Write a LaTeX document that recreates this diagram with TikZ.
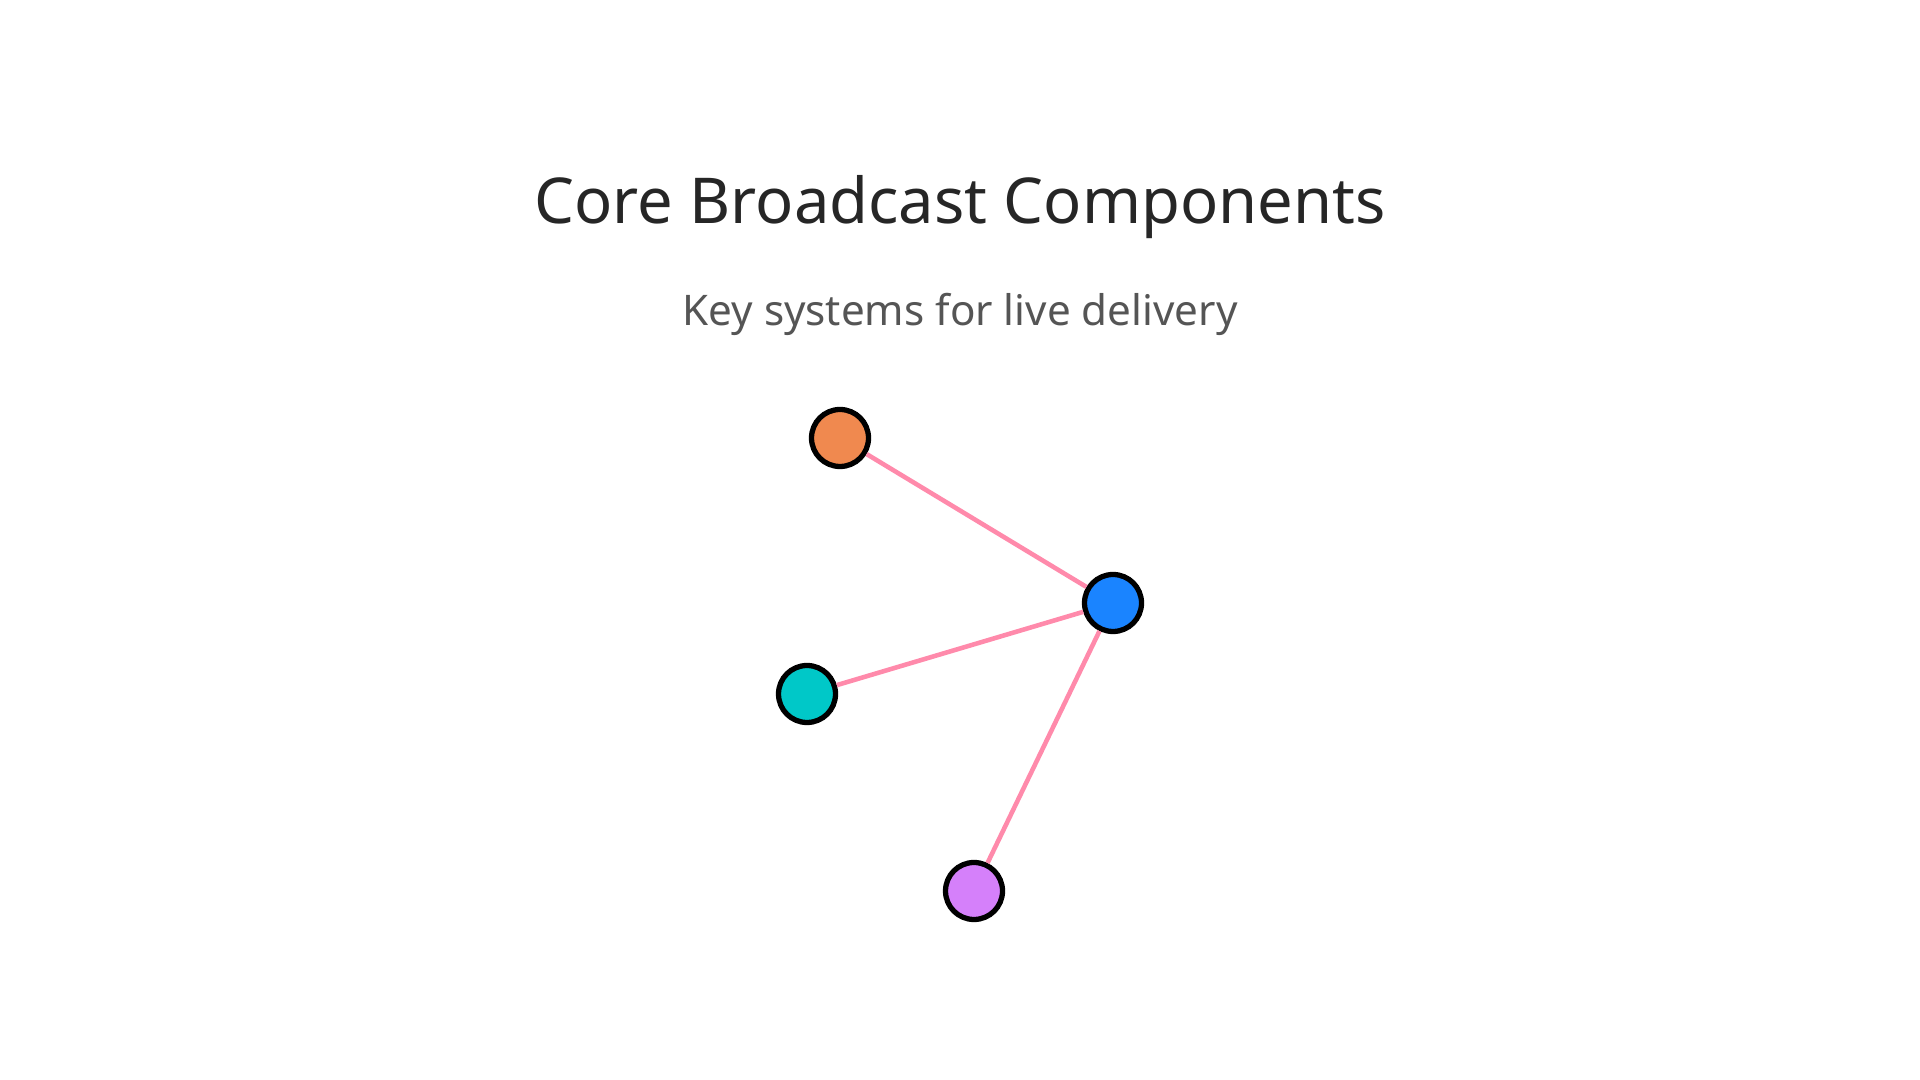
\documentclass[tikz,border=0pt]{standalone}
\usepackage{fontspec}
\setmainfont{Noto Sans}
\usetikzlibrary{positioning}
\definecolor{TitleGray}{HTML}{262626}
\definecolor{SubGray}{HTML}{555555}
\definecolor{LinkPink}{HTML}{FF8AAB}
\definecolor{NodeOrange}{HTML}{F0894F}
\definecolor{NodeBlue}{HTML}{1A84FF}
\definecolor{NodeTeal}{HTML}{00C8C8}
\definecolor{NodePurple}{HTML}{D580FA}

\begin{document}
\begin{tikzpicture}[dot/.style={circle,draw=black,line width=1.5pt,
 minimum size=0.57cm,inner sep=0pt},
 link/.style={draw=LinkPink,line width=1.3pt}]
\useasboundingbox (0,0) rectangle (19.2,10.8);
\node[anchor=base,text=TitleGray,font=\fontsize{18}{22}\selectfont] (title) at (9.6,8.56) {Core Broadcast Components};
\node[anchor=base,text=SubGray,font=\fontsize{12}{14}\selectfont] (subtitle) at (9.6,7.54) {Key systems for live delivery};
\node[dot,fill=NodeOrange] (orange) at (8.40,6.42) {};
\node[dot,fill=NodeBlue] (hub) at (11.13,4.77) {};
\node[dot,fill=NodeTeal] (teal) at (8.07,3.86) {};
\node[dot,fill=NodePurple] (purple) at (9.74,1.89) {};
\draw[link] (orange) -- (hub);
\draw[link] (teal) -- (hub);
\draw[link] (purple) -- (hub);
\end{tikzpicture}
\end{document}
